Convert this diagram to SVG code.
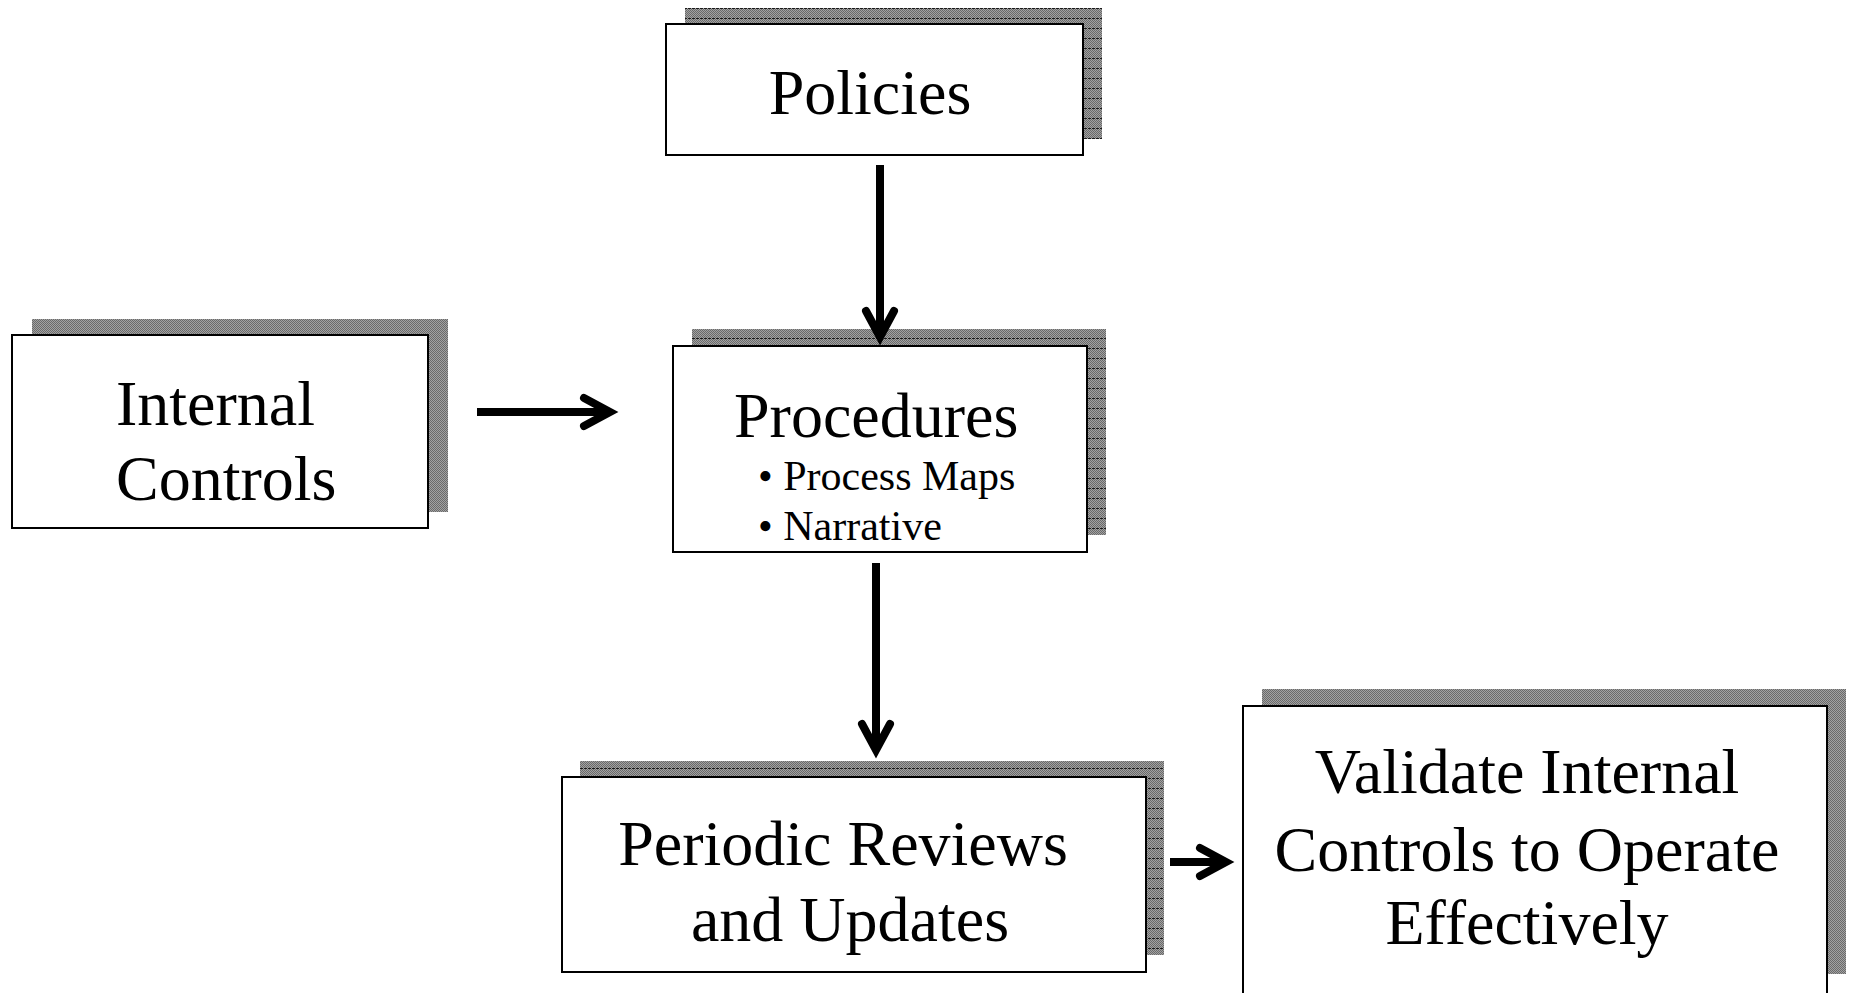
<svg xmlns="http://www.w3.org/2000/svg" width="1851" height="993" viewBox="0 0 1851 993">
  <style>
    .box { fill: #ffffff; stroke: #000000; stroke-width: 2; }
    .lbl { font-family: "Liberation Serif", "Times New Roman", serif; font-size: 64px; fill: #000000; }
    .sub { font-family: "Liberation Serif", "Times New Roman", serif; font-size: 42px; fill: #000000; }
    .shaft { stroke: #000000; stroke-width: 8; fill: none; }
    .head { stroke: #000000; stroke-width: 8; fill: none; stroke-linecap: round; stroke-linejoin: miter; }
  </style>
  <defs>
    <pattern id="checker" width="2" height="2" patternUnits="userSpaceOnUse">
      <rect width="2" height="2" fill="#a2a2a2"/>
      <rect width="1" height="1" fill="#6a6a6a"/>
      <rect x="1" y="1" width="1" height="1" fill="#6a6a6a"/>
    </pattern>
    <pattern id="lined" width="4" height="10" patternUnits="userSpaceOnUse">
      <rect width="4" height="10" fill="url(#checker)"/>
      <rect y="8" width="3" height="1" fill="#1a1a1a"/>
    </pattern>
  </defs>
  <rect width="1851" height="993" fill="#ffffff"/>

  <g id="policies">
    <rect x="685" y="8" width="417" height="131" fill="url(#lined)"/>
    <rect class="box" x="666" y="24" width="417" height="131"/>
    <text class="lbl" x="870" y="114" text-anchor="middle">Policies</text>
  </g>

  <g id="internal-controls">
    <rect x="32" y="319" width="416" height="193" fill="url(#checker)"/>
    <rect class="box" x="12" y="335" width="416" height="193"/>
    <text class="lbl" x="116" y="425">Internal</text>
    <text class="lbl" x="116" y="500">Controls</text>
  </g>

  <g id="procedures">
    <rect x="692" y="329" width="414" height="206" fill="url(#lined)"/>
    <rect class="box" x="673" y="346" width="414" height="206"/>
    <text class="lbl" x="734" y="437">Procedures</text>
    <text class="sub" x="758" y="490">• Process Maps</text>
    <text class="sub" x="758" y="540">• Narrative</text>
  </g>

  <g id="periodic-reviews">
    <rect x="580" y="761" width="584" height="194" fill="url(#lined)"/>
    <rect class="box" x="562" y="777" width="584" height="195"/>
    <text class="lbl" x="843" y="865" text-anchor="middle">Periodic Reviews</text>
    <text class="lbl" x="850" y="941" text-anchor="middle">and Updates</text>
  </g>

  <g id="validate">
    <rect x="1262" y="689" width="584" height="285" fill="url(#checker)"/>
    <rect class="box" x="1243" y="706" width="584" height="300"/>
    <text class="lbl" x="1527" y="793" text-anchor="middle">Validate Internal</text>
    <text class="lbl" x="1527" y="871" text-anchor="middle">Controls to Operate</text>
    <text class="lbl" x="1527" y="944" text-anchor="middle">Effectively</text>
  </g>

  <g id="connectors">
    <line class="shaft" x1="880" y1="165" x2="880" y2="336"/>
    <polyline class="head" points="866,311 880,337 894,311"/>

    <line class="shaft" x1="477" y1="412" x2="608" y2="412"/>
    <polyline class="head" points="584,398 610,412 584,426"/>

    <line class="shaft" x1="876" y1="563" x2="876" y2="748"/>
    <polyline class="head" points="862,724 876,750 890,724"/>

    <line class="shaft" x1="1170" y1="862" x2="1224" y2="862"/>
    <polyline class="head" points="1200,848 1226,862 1200,876"/>
  </g>
</svg>
